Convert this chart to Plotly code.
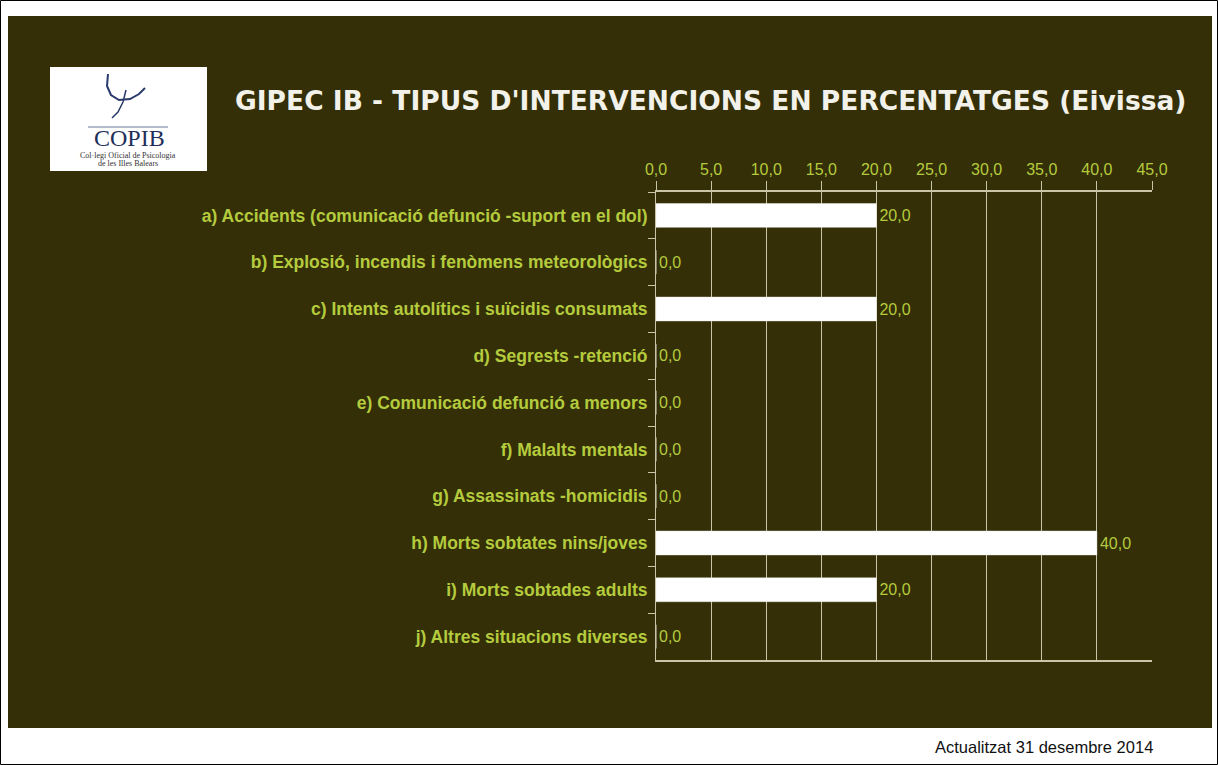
import plotly.graph_objects as go

# data
categories = [
    "a) Accidents (comunicació defunció -suport en el dol)",
    "b) Explosió, incendis i fenòmens meteorològics",
    "c) Intents autolítics i suïcidis consumats",
    "d) Segrests -retenció",
    "e) Comunicació defunció a menors",
    "f) Malalts mentals",
    "g) Assassinats -homicidis",
    "h) Morts sobtates nins/joves",
    "i) Morts sobtades adults",
    "j) Altres situacions diverses",
]
percentages = [20.0, 0.0, 20.0, 0.0, 0.0, 0.0, 0.0, 40.0, 20.0, 0.0]

W, H = 1218, 765
L, R, T, B = 656, 1152, 192, 660  # plot area in pixels

BG = "#342f06"
GREEN = "#b4cb3e"
LINE = "#c9c5a6"
FONT = "Liberation Sans, Arial, sans-serif"


def px(x):
    return (x - L) / (R - L)


def py(y):
    return (B - y) / (B - T)


fig = go.Figure(go.Bar(
    x=percentages, y=categories, orientation="h",
    marker=dict(color="white", line=dict(color="#e8e8e0", width=0.5)),
    texttemplate="%{x:.1f}", textposition="outside",
    textfont=dict(color=GREEN, size=16, family=FONT),
    cliponaxis=False, hoverinfo="skip",
))

shapes = [
    # dark panel
    dict(type="rect", xref="paper", yref="paper", layer="below",
         x0=px(8), x1=px(1212), y0=py(16), y1=py(728),
         fillcolor=BG, line=dict(width=0)),
    # page border
    dict(type="rect", xref="paper", yref="paper", layer="below",
         x0=px(0.5), x1=px(W - 0.5), y0=py(0.5), y1=py(H - 0.5),
         line=dict(color="black", width=1)),
    # logo box
    dict(type="rect", xref="paper", yref="paper", layer="above",
         x0=px(50), x1=px(207), y0=py(67), y1=py(171),
         fillcolor="white", line=dict(width=0)),
    # logo rule
    dict(type="line", xref="paper", yref="paper",
         x0=px(88), x1=px(168), y0=py(127), y1=py(127),
         line=dict(color="#6a7a9a", width=1)),
]

# logo symbol
sym = [(108, 74), (107, 86), (111, 95), (119, 100), (130, 99), (139, 94), (145, 88)]
shapes.append(dict(
    type="path", xref="paper", yref="paper",
    path="M " + " L ".join(f"{px(a)},{py(b)}" for a, b in sym),
    line=dict(color="#2a3a6a", width=2)))
stroke = [(126, 90), (123, 102), (118, 112), (112, 118)]
shapes.append(dict(
    type="path", xref="paper", yref="paper",
    path="M " + " L ".join(f"{px(a)},{py(b)}" for a, b in stroke),
    line=dict(color="#2a3a6a", width=1.5)))

annotations = [
    dict(text="<b>GIPEC IB - TIPUS D'INTERVENCIONS EN PERCENTATGES (Eivissa)</b>",
         xref="paper", yref="paper", x=px(233), y=py(100),
         xanchor="left", yanchor="middle", showarrow=False,
         font=dict(size=26.5, color="#f2f2ea", family="DejaVu Sans, sans-serif")),
    dict(text="COPIB", xref="paper", yref="paper", x=px(129), y=py(138),
         xanchor="center", yanchor="middle", showarrow=False,
         font=dict(size=24, color="#1f2f5a", family="Liberation Serif, serif")),
    dict(text="Col·legi Oficial de Psicologia", xref="paper", yref="paper",
         x=px(128), y=py(155), xanchor="center", yanchor="middle",
         showarrow=False,
         font=dict(size=8, color="#333", family="Liberation Serif, serif")),
    dict(text="de les Illes Balears", xref="paper", yref="paper",
         x=px(128), y=py(163), xanchor="center", yanchor="middle",
         showarrow=False,
         font=dict(size=8, color="#333", family="Liberation Serif, serif")),
    dict(text="Actualitzat 31 desembre 2014", xref="paper", yref="paper",
         x=px(1155), y=py(747), xanchor="right", yanchor="middle",
         showarrow=False, font=dict(size=16.5, color="#111", family=FONT)),
]

fig.update_layout(
    width=W, height=H,
    margin=dict(l=L, r=W - R, t=T, b=H - B, pad=0),
    paper_bgcolor="white", plot_bgcolor="rgba(0,0,0,0)",
    separators=",.",
    bargap=0.49, showlegend=False,
    font=dict(family=FONT, color=GREEN),
    shapes=shapes, annotations=annotations,
    xaxis=dict(
        side="top", range=[0, 45], dtick=5, tick0=0, tickformat=".1f",
        showgrid=True, gridcolor=LINE, gridwidth=1, zeroline=False,
        showline=True, linecolor=LINE, linewidth=2, mirror=True,
        ticks="outside", ticklen=9, tickcolor=LINE,
        tickfont=dict(size=16, color=GREEN, family=FONT),
        fixedrange=True,
    ),
    yaxis=dict(
        autorange="reversed", showgrid=False, zeroline=False,
        showline=True, linecolor=LINE, linewidth=1,
        ticks="outside", ticklen=7, tickcolor=LINE, tickson="boundaries",
        ticklabelstandoff=4,
        tickfont=dict(size=17.5, color=GREEN, family=FONT, weight="bold"),
        fixedrange=True,
    ),
)

# drop the page's default body margin so the figure sits at the window corner
fig.write_html("out.html", config={"displayModeBar": False},
               post_script="document.body.style.margin='0';")
